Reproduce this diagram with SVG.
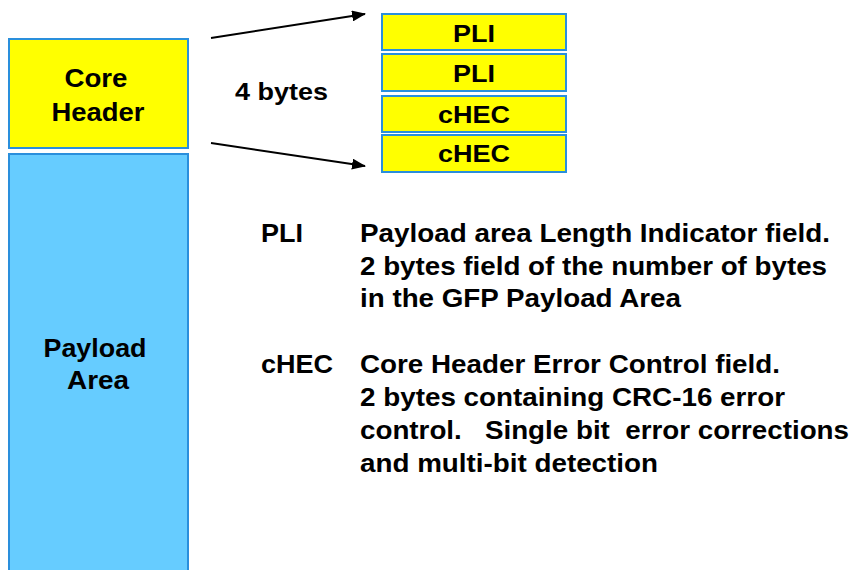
<svg xmlns="http://www.w3.org/2000/svg" width="853" height="570" viewBox="0 0 853 570">
  <style>
    .box { stroke: #2a8fdc; stroke-width: 2; }
    .hdr { fill: #ffff00; }
    .pay { fill: #66ccff; }
    text { font-family: "Liberation Sans", Arial, sans-serif; font-weight: bold; fill: #000; }
    .lbl { font-size: 25.5px; text-anchor: middle; }
    .fld { font-size: 24px; text-anchor: middle; }
    .desc { font-size: 25px; }
    .conn { stroke: #000; stroke-width: 2; fill: none; marker-end: url(#arrow); }
  </style>
  <defs>
    <marker id="arrow" markerWidth="14" markerHeight="11" refX="13" refY="5.5" orient="auto" markerUnits="userSpaceOnUse" viewBox="0 0 14 11">
      <path d="M0,0 L14,5.5 L0,11 Z" fill="#000"/>
    </marker>
  </defs>

  <!-- frame blocks -->
  <g id="core-header">
    <rect class="box hdr" x="9" y="39" width="179" height="109"/>
    <text class="lbl" x="96" y="87" textLength="63" lengthAdjust="spacingAndGlyphs">Core</text>
    <text class="lbl" x="98" y="121" textLength="93" lengthAdjust="spacingAndGlyphs">Header</text>
  </g>

  <g id="payload-area">
    <rect class="box pay" x="9" y="154" width="179" height="420"/>
    <text class="lbl" x="95" y="357" textLength="103" lengthAdjust="spacingAndGlyphs">Payload</text>
    <text class="lbl" x="98" y="389" textLength="62" lengthAdjust="spacingAndGlyphs">Area</text>
  </g>

  <!-- core header byte fields -->
  <g id="field-pli-1">
    <rect class="box hdr" x="382" y="14" width="184" height="36"/>
    <text class="fld" x="474" y="42" textLength="42" lengthAdjust="spacingAndGlyphs">PLI</text>
  </g>
  <g id="field-pli-2">
    <rect class="box hdr" x="382" y="54" width="184" height="37"/>
    <text class="fld" x="474" y="82" textLength="42" lengthAdjust="spacingAndGlyphs">PLI</text>
  </g>
  <g id="field-chec-1">
    <rect class="box hdr" x="382" y="96" width="184" height="36"/>
    <text class="fld" x="474" y="123" textLength="72" lengthAdjust="spacingAndGlyphs">cHEC</text>
  </g>
  <g id="field-chec-2">
    <rect class="box hdr" x="382" y="135" width="184" height="37"/>
    <text class="fld" x="474" y="162" textLength="72" lengthAdjust="spacingAndGlyphs">cHEC</text>
  </g>

  <g id="connectors">
    <line class="conn" x1="211" y1="38" x2="365" y2="14"/>
    <line class="conn" x1="211" y1="143" x2="365" y2="166"/>
  </g>

  <g id="size-label">
    <text class="fld" x="281.5" y="100" textLength="93" lengthAdjust="spacingAndGlyphs">4 bytes</text>
  </g>

  <!-- field definitions -->
  <g id="legend">
    <text class="desc" x="261" y="242" textLength="42" lengthAdjust="spacingAndGlyphs">PLI</text>
    <text class="desc" x="360" y="242" textLength="470" lengthAdjust="spacingAndGlyphs">Payload area Length Indicator field.</text>
    <text class="desc" x="360" y="275" textLength="467" lengthAdjust="spacingAndGlyphs">2 bytes field of the number of bytes</text>
    <text class="desc" x="360" y="307" textLength="321" lengthAdjust="spacingAndGlyphs">in the GFP Payload Area</text>
    <text class="desc" x="261" y="373" textLength="72" lengthAdjust="spacingAndGlyphs">cHEC</text>
    <text class="desc" x="360" y="373" textLength="420" lengthAdjust="spacingAndGlyphs">Core Header Error Control field.</text>
    <text class="desc" x="360" y="406" textLength="425" lengthAdjust="spacingAndGlyphs">2 bytes containing CRC-16 error</text>
    <text class="desc" x="360" y="439" textLength="489" lengthAdjust="spacingAndGlyphs" xml:space="preserve">control.   Single bit  error corrections</text>
    <text class="desc" x="360" y="472" textLength="298" lengthAdjust="spacingAndGlyphs">and multi-bit detection</text>
  </g>
</svg>
